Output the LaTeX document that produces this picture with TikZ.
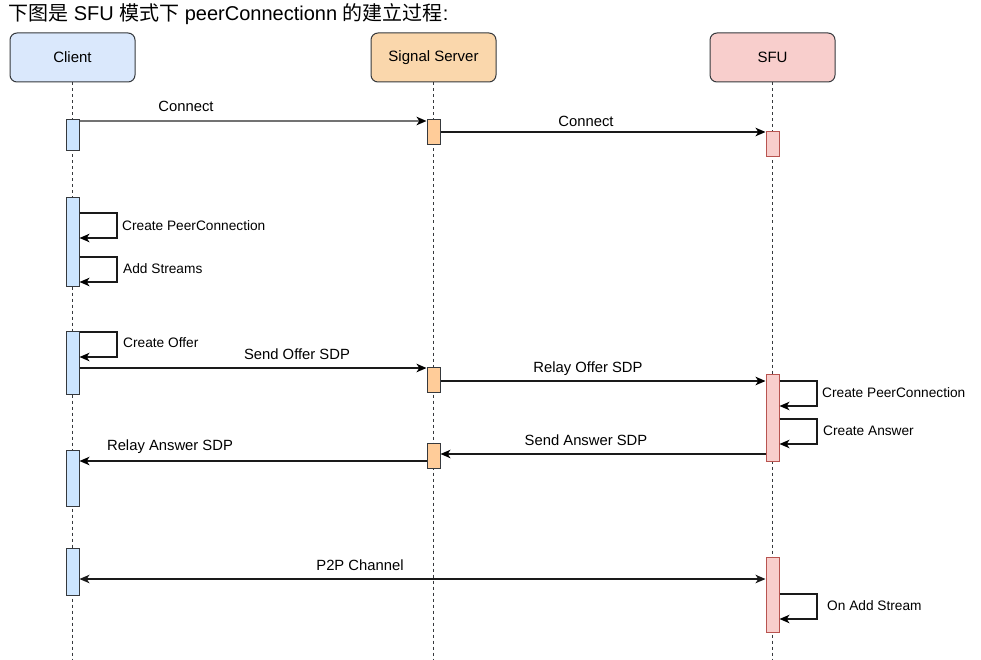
\documentclass[tikz,border=0pt]{standalone}
\usepackage{fontspec}
\setmainfont{Liberation Sans}
\newfontfamily\cjk{Noto Sans CJK SC}
\usetikzlibrary{arrows.meta}
\definecolor{hdrC}{HTML}{DAE8FC}
\definecolor{hdrS}{HTML}{FAD7AC}
\definecolor{hdrF}{HTML}{F8CECC}
\definecolor{actCfill}{HTML}{CCE5FF}
\definecolor{actSfill}{HTML}{FFCC99}
\definecolor{actFfill}{HTML}{F8CECC}
\definecolor{actFdraw}{HTML}{B85450}
\definecolor{edge}{HTML}{36393D}
\definecolor{msg}{HTML}{1A1A1A}
\tikzset{
  hdr/.style={draw=edge, line width=1pt, rounded corners=7pt, minimum width=125pt, minimum height=49pt, inner sep=0pt, font=\fontsize{15}{18}\selectfont},
  lifeline/.style={draw=edge, line width=0.9pt, dash pattern=on 3pt off 3pt},
  act/.style={draw=edge, line width=1pt, minimum width=13pt, inner sep=0pt},
  actC/.style={act, fill=actCfill},
  actS/.style={act, fill=actSfill},
  actF/.style={act, fill=actFfill, draw=actFdraw},
  tip/.style={-{Stealth[length=10pt,width=8.5pt,inset=2.8pt,color=black]}},
  msgline/.style={draw=msg, line width=1.3pt, tip},
  msglabel/.style={font=\fontsize{14.8}{17}\selectfont, inner sep=0pt},
  selflabel/.style={font=\fontsize{13.7}{16}\selectfont, inner sep=0pt, anchor=west},
}
\begin{document}
\begin{tikzpicture}[x=1pt,y=-1pt]
\useasboundingbox[fill=white] (0,0) rectangle (981,660);
% title
\node[anchor=west, inner sep=0pt, font=\fontsize{20}{23}\selectfont] (title) at (8,14) {{\cjk 下图是} SFU {\cjk 模式下} peerConnectionn {\cjk 的建立过程}:};
% headers
\node[hdr, fill=hdrC] (client) at (72.5,57.5) {Client};
\node[hdr, fill=hdrS] (signal) at (433.5,57.5) {Signal Server};
\node[hdr, fill=hdrF] (sfu) at (772.5,57.5) {SFU};
% lifelines
\coordinate (cEnd) at (72.5,660);
\coordinate (sEnd) at (433.5,660);
\coordinate (fEnd) at (772.5,660);
\draw[lifeline] (client.south) -- (cEnd);
\draw[lifeline] (signal.south) -- (sEnd);
\draw[lifeline] (sfu.south) -- (fEnd);
% activations
\node[actC, minimum height=31pt] (a1) at (72.5,135.5) {};
\node[actC, minimum height=88pt] (a2) at (72.5,242) {};
\node[actC, minimum height=63pt] (a3) at (72.5,362.5) {};
\node[actC, minimum height=56pt] (a4) at (72.5,478) {};
\node[actC, minimum height=47pt] (a5) at (72.5,571.5) {};
\node[actS, minimum height=25pt] (s1) at (433.5,132.5) {};
\node[actS, minimum height=25pt] (s2) at (433.5,379.5) {};
\node[actS, minimum height=25pt] (s3) at (433.5,455.5) {};
\node[actF, minimum height=25pt] (f1) at (772.5,144.5) {};
\node[actF, minimum height=87pt] (f2) at (772.5,417.5) {};
\node[actF, minimum height=75pt] (f3) at (772.5,594.5) {};
% messages
\draw[msgline, draw=black!55, line width=1.6pt] (a1.east |- 0,121) -- (s1.west |- 0,121);
\node[msglabel] (l1) at (186,106) {Connect};
\draw[msgline] (s1.east |- 0,132) -- (f1.west |- 0,132);
\node[msglabel] (l2) at (586,121) {Connect};
% self calls client
\draw[msgline] (a2.east |- 0,213) -| (117,238) -- (a2.east |- 0,238);
\node[selflabel] (l3) at (122,226) {Create PeerConnection};
\draw[msgline] (a2.east |- 0,257) -| (117,282) -- (a2.east |- 0,282);
\node[selflabel] (l4) at (123,269) {Add Streams};
\draw[msgline] (a3.east |- 0,332) -| (117,357) -- (a3.east |- 0,357);
\node[selflabel] (l5) at (123,343) {Create Offer};
% offer
\draw[msgline] (a3.east |- 0,368) -- (s2.west |- 0,368);
\node[msglabel] (l6) at (297,354) {Send Offer SDP};
\draw[msgline] (s2.east |- 0,381) -- (f2.west |- 0,381);
\node[msglabel] (l7) at (588,369) {Relay Offer SDP};
% sfu self calls
\draw[msgline] (f2.east |- 0,381) -| (817,406) -- (f2.east |- 0,406);
\node[selflabel] (l8) at (822,393) {Create PeerConnection};
\draw[msgline] (f2.east |- 0,419) -| (817,444) -- (f2.east |- 0,444);
\node[selflabel] (l9) at (823,431) {Create Answer};
% answer
\draw[msgline] (f2.west |- 0,454) -- (s3.east |- 0,454);
\node[msglabel] (l10) at (586,440) {Send Answer SDP};
\draw[msgline] (s3.west |- 0,461) -- (a4.east |- 0,461);
\node[msglabel] (l11) at (170,447) {Relay Answer SDP};
% p2p
\draw[msgline, {Stealth[length=10pt,width=8.5pt,inset=2.8pt]}-{Stealth[length=10pt,width=8.5pt,inset=2.8pt]}] (a5.east |- 0,579) -- (f3.west |- 0,579);
\node[msglabel] (l12) at (360,565) {P2P Channel};
\draw[msgline] (f3.east |- 0,594) -| (817,619) -- (f3.east |- 0,619);
\node[selflabel] (l13) at (827,606) {On Add Stream};
\end{tikzpicture}
\end{document}
